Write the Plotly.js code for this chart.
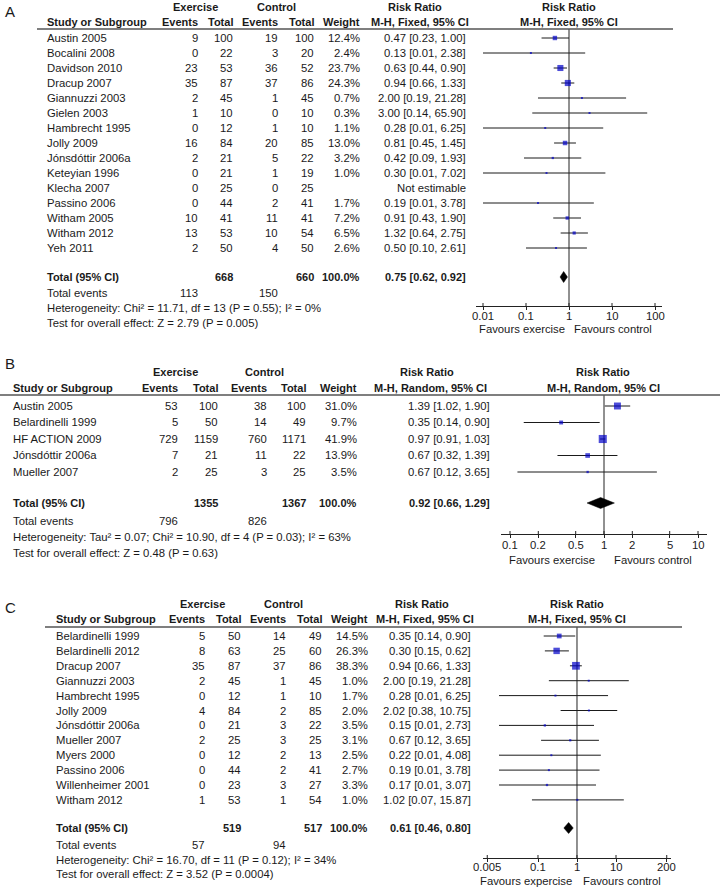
<!DOCTYPE html>
<html><head><meta charset="utf-8">
<script src="https://cdn.plot.ly/plotly-3.0.1.min.js"></script>
<style>html,body{margin:0;padding:0;background:#fff;}#chart{width:720px;height:888px;}</style>
</head><body><div id="chart"></div>
<script>
// ================= DATA =================
// ---- Panel A ----
const studiesA = ['Austin 2005','Bocalini 2008','Davidson 2010','Dracup 2007','Giannuzzi 2003','Gielen 2003','Hambrecht 1995','Jolly 2009','Jónsdóttir 2006a','Keteyian 1996','Klecha 2007','Passino 2006','Witham 2005','Witham 2012','Yeh 2011'];
const exEventsA = [9,0,23,35,2,1,0,16,2,0,0,0,10,13,2];
const exTotalA  = [100,22,53,87,45,10,12,84,21,21,25,44,41,53,50];
const ctEventsA = [19,3,36,37,1,0,1,20,5,1,0,2,11,10,4];
const ctTotalA  = [100,20,52,86,45,10,10,85,22,19,25,41,41,54,50];
const weightA   = [12.4,2.4,23.7,24.3,0.7,0.3,1.1,13.0,3.2,1.0,null,1.7,7.2,6.5,2.6];
const rrA = [0.47,0.13,0.63,0.94,2.00,3.00,0.28,0.81,0.42,0.30,null,0.19,0.91,1.32,0.50];
const loA = [0.23,0.01,0.44,0.66,0.19,0.14,0.01,0.45,0.09,0.01,null,0.01,0.43,0.64,0.10];
const hiA = [1.00,2.38,0.90,1.33,21.28,65.90,6.25,1.45,1.93,7.02,null,3.78,1.90,2.75,2.61];
const totalsA = [668,660];
const totalEventsA = [113,150];
const pooledA = [0.75,0.62,0.92];
const methodA = 'M-H, Fixed, 95% CI';
const hetA = 'Heterogeneity: Chi² = 11.71, df = 13 (P = 0.55); I² = 0%';
const testA = 'Test for overall effect: Z = 2.79 (P = 0.005)';
const ticksA = [0.01,0.1,1,10,100];
const tickLabelsA = ['0.01','0.1','1','10','100'];
const favoursA = ['Favours exercise','Favours control'];

// ---- Panel B ----
const studiesB = ['Austin 2005','Belardinelli 1999','HF ACTION 2009','Jónsdóttir 2006a','Mueller 2007'];
const exEventsB = [53,5,729,7,2];
const exTotalB  = [100,50,1159,21,25];
const ctEventsB = [38,14,760,11,3];
const ctTotalB  = [100,49,1171,22,25];
const weightB   = [31.0,9.7,41.9,13.9,3.5];
const rrB = [1.39,0.35,0.97,0.67,0.67];
const loB = [1.02,0.14,0.91,0.32,0.12];
const hiB = [1.90,0.90,1.03,1.39,3.65];
const totalsB = [1355,1367];
const totalEventsB = [796,826];
const pooledB = [0.92,0.66,1.29];
const methodB = 'M-H, Random, 95% CI';
const hetB = 'Heterogeneity: Tau² = 0.07; Chi² = 10.90, df = 4 (P = 0.03); I² = 63%';
const testB = 'Test for overall effect: Z = 0.48 (P = 0.63)';
const ticksB = [0.1,0.2,0.5,1,2,5,10];
const tickLabelsB = ['0.1','0.2','0.5','1','2','5','10'];
const favoursB = ['Favours exercise','Favours control'];

// ---- Panel C ----
const studiesC = ['Belardinelli 1999','Belardinelli 2012','Dracup 2007','Giannuzzi 2003','Hambrecht 1995','Jolly 2009','Jónsdóttir 2006a','Mueller 2007','Myers 2000','Passino 2006','Willenheimer 2001','Witham 2012'];
const exEventsC = [5,8,35,2,0,4,0,2,0,0,0,1];
const exTotalC  = [50,63,87,45,12,84,21,25,12,44,23,53];
const ctEventsC = [14,25,37,1,1,2,3,3,2,2,3,1];
const ctTotalC  = [49,60,86,45,10,85,22,25,13,41,27,54];
const weightC   = [14.5,26.3,38.3,1.0,1.7,2.0,3.5,3.1,2.5,2.7,3.3,1.0];
const rrC = [0.35,0.30,0.94,2.00,0.28,2.02,0.15,0.67,0.22,0.19,0.17,1.02];
const loC = [0.14,0.15,0.66,0.19,0.01,0.38,0.01,0.12,0.01,0.01,0.01,0.07];
const hiC = [0.90,0.62,1.33,21.28,6.25,10.75,2.73,3.65,4.08,3.78,3.07,15.87];
const totalsC = [519,517];
const totalEventsC = [57,94];
const pooledC = [0.61,0.46,0.80];
const methodC = 'M-H, Fixed, 95% CI';
const hetC = 'Heterogeneity: Chi² = 16.70, df = 11 (P = 0.12); I² = 34%';
const testC = 'Test for overall effect: Z = 3.52 (P = 0.0004)';
const ticksC = [0.005,0.1,1,10,200];
const tickLabelsC = ['0.005','0.1','1','10','200'];
const favoursC = ['Favours expercise','Favours control'];

// ================= LAYOUT GEOMETRY (pixels) =================
const geomA = {label:'A', labelX:10, labelY:11, nameX:46, colR:[199,234,279,315,361], ciR:467,
  hdr1Y:7, hdr2Y:22, lineY:29, lineX0:37, lineX1:673, rowTop:38, rowH:15,
  totalY:277, evY:293, hetY:308, testY:323, exC:195, ctC:276, rrC1:415, rrC2:420, plotC:569,
  axisY:306, center:569, decPx:43, span:2.163, tickY:316, favC:[522,613], favY:329};
const geomB = {label:'B', labelX:10, labelY:363, nameX:12, colR:[179,219,268,307,358], ciR:491,
  hdr1Y:372, hdr2Y:388, lineY:395, lineX0:0, lineX1:720, rowTop:406, rowH:16.5,
  totalY:503, evY:521, hetY:537, testY:553, exC:175, ctC:264, rrC1:427, rrC2:430, plotC:603,
  axisY:534, center:604, decPx:94, span:1.1, tickY:545, favC:[552,653], favY:560};
const geomC = {label:'C', labelX:10, labelY:607, nameX:55, colR:[206,242,287,323,369], ciR:472,
  hdr1Y:604, hdr2Y:619, lineY:627, lineX0:45, lineX1:682, rowTop:636, rowH:14.9,
  totalY:828, evY:845, hetY:860, testY:874, exC:202, ctC:283, rrC1:422, rrC2:425, plotC:577,
  axisY:858, center:577, decPx:39, span:2.42, tickY:867, favC:[526,622], favY:881};

// ================= BUILD =================
const FONT = '"Liberation Sans", Arial, Helvetica, sans-serif';
const TXT = '#1a1a1a';
const REG = 11.3, BOLD = 11;
const W = 720, H = 888;
const annotations = [], shapes = [], traces = [];
const layout = {width:W, height:H, margin:{l:0,r:0,t:0,b:0}, showlegend:false,
  paper_bgcolor:'#ffffff', plot_bgcolor:'rgba(0,0,0,0)', annotations, shapes};

function px(x){ return x / W; }
function py(y){ return 1 - y / H; }
function text(x, y, t, anchor, bold, size){
  annotations.push({xref:'paper', yref:'paper', x:px(x), y:py(y), text: bold ? '<b>'+t+'</b>' : t,
    xanchor:anchor, yanchor:'middle', showarrow:false, borderpad:0,
    font:{family:FONT, size:size || (bold ? BOLD : REG), color:TXT}});
}
function fmtCI(r,l,h){ return r.toFixed(2)+' ['+l.toFixed(2)+', '+h.toFixed(2)+']'; }

function drawPanel(d, g, k){
  const xa = k===1 ? 'x' : 'x'+k, ya = k===1 ? 'y' : 'y'+k;
  const xkey = k===1 ? 'xaxis' : 'xaxis'+k, ykey = k===1 ? 'yaxis' : 'yaxis'+k;
  const rowY = d.studies.map((_,i) => g.rowTop + i*g.rowH);

  // headers
  text(g.labelX, g.labelY, g.label, 'center', false, 15);
  text(g.exC, g.hdr1Y, 'Exercise', 'center', true);
  text(g.ctC, g.hdr1Y, 'Control', 'center', true);
  text(g.rrC1, g.hdr1Y, 'Risk Ratio', 'center', true);
  text(g.plotC, g.hdr1Y, 'Risk Ratio', 'center', true);
  text(g.nameX, g.hdr2Y, 'Study or Subgroup', 'left', true);
  ['Events','Total','Events','Total','Weight'].forEach((h,j) => text(g.colR[j], g.hdr2Y, h, 'right', true));
  text(g.rrC2, g.hdr2Y, d.method, 'center', true);
  text(g.plotC, g.hdr2Y, d.method, 'center', true);
  shapes.push({type:'line', xref:'paper', yref:'paper', x0:px(g.lineX0), x1:px(g.lineX1),
    y0:py(g.lineY), y1:py(g.lineY), line:{color:'#555', width:1.5}});

  // study rows
  d.studies.forEach((s,i) => {
    const y = rowY[i];
    text(g.nameX, y, s, 'left');
    [d.exEvents[i], d.exTotal[i], d.ctEvents[i], d.ctTotal[i]].forEach((v,j) => text(g.colR[j], y, String(v), 'right'));
    if (d.weight[i] != null) {
      text(g.colR[4], y, d.weight[i].toFixed(1)+'%', 'right');
      text(g.ciR, y, fmtCI(d.rr[i], d.lo[i], d.hi[i]), 'right');
    } else {
      text(g.ciR, y, 'Not estimable', 'right');
    }
  });

  // totals
  text(g.nameX, g.totalY, 'Total (95% CI)', 'left', true);
  text(g.colR[1], g.totalY, String(d.totals[0]), 'right', true);
  text(g.colR[3], g.totalY, String(d.totals[1]), 'right', true);
  text(g.colR[4], g.totalY, '100.0%', 'right', true);
  text(g.ciR, g.totalY, fmtCI(d.pooled[0], d.pooled[1], d.pooled[2]), 'right', true);
  text(g.nameX, g.evY, 'Total events', 'left');
  text(g.colR[0], g.evY, String(d.events[0]), 'right');
  text(g.colR[2], g.evY, String(d.events[1]), 'right');
  text(g.nameX, g.hetY, d.het, 'left');
  text(g.nameX, g.testY, d.test, 'left');

  // axes
  const x0 = g.center - g.decPx*g.span, x1 = g.center + g.decPx*g.span;
  layout[xkey] = {domain:[px(x0), px(x1)], range:[-g.span, g.span], type:'log', anchor:ya,
    showgrid:false, zeroline:false, showline:true, linecolor:'#222', linewidth:1,
    ticks:'outside', ticklen:3, tickwidth:1, tickcolor:'#222', tickmode:'array',
    tickvals:d.ticks, showticklabels:false, fixedrange:true};
  layout[ykey] = {domain:[py(g.axisY), py(g.lineY)], range:[g.axisY, g.lineY], anchor:xa,
    visible:false, fixedrange:true};

  d.tickLabels.forEach((t,j) => annotations.push({xref:xa, yref:'paper', x:Math.log10(d.ticks[j]),
    y:py(g.tickY), text:t, xanchor:'center', yanchor:'middle', showarrow:false, borderpad:0,
    font:{family:FONT, size:REG, color:TXT}}));
  text(g.favC[0], g.favY, d.favours[0], 'center');
  text(g.favC[1], g.favY, d.favours[1], 'center');

  // upper halves of ticks (crossing ticks)
  const tx = [], ty = [];
  d.ticks.forEach(v => { tx.push(v, v, null); ty.push(g.axisY - 3, g.axisY, null); });
  traces.push({type:'scatter', mode:'lines', x:tx, y:ty, xaxis:xa, yaxis:ya,
    line:{color:'#222', width:1}, hoverinfo:'skip'});

  // line of no effect
  traces.push({type:'scatter', mode:'lines', x:[1,1], y:[g.lineY, g.axisY], xaxis:xa, yaxis:ya,
    line:{color:'#222', width:1}, hoverinfo:'skip'});

  // CI lines
  const cx = [], cy = [];
  d.studies.forEach((_,i) => { if (d.rr[i] != null) { cx.push(d.lo[i], d.hi[i], null); cy.push(rowY[i], rowY[i], null); } });
  traces.push({type:'scatter', mode:'lines', x:cx, y:cy, xaxis:xa, yaxis:ya,
    line:{color:'#1a1a1a', width:1}, hoverinfo:'skip'});

  // squares
  const sx = [], sy = [], ss = [];
  d.studies.forEach((_,i) => { if (d.rr[i] != null) { sx.push(d.rr[i]); sy.push(rowY[i]); ss.push(Math.max(2, 1.25*Math.sqrt(d.weight[i]))); } });
  traces.push({type:'scatter', mode:'markers', x:sx, y:sy, xaxis:xa, yaxis:ya,
    marker:{symbol:'square', size:ss, color:'#0000c8', line:{width:0}}, hoverinfo:'skip', cliponaxis:false});

  // diamond
  const T = g.totalY, hh = 5.5;
  traces.push({type:'scatter', mode:'lines', x:[d.pooled[1], d.pooled[0], d.pooled[2], d.pooled[0], d.pooled[1]],
    y:[T, T-hh, T, T+hh, T], xaxis:xa, yaxis:ya, fill:'toself', fillcolor:'#000',
    line:{color:'#000', width:0.5}, hoverinfo:'skip'});
}

drawPanel({studies:studiesA, exEvents:exEventsA, exTotal:exTotalA, ctEvents:ctEventsA, ctTotal:ctTotalA,
  weight:weightA, rr:rrA, lo:loA, hi:hiA, totals:totalsA, events:totalEventsA, pooled:pooledA,
  method:methodA, het:hetA, test:testA, ticks:ticksA, tickLabels:tickLabelsA, favours:favoursA}, geomA, 1);
drawPanel({studies:studiesB, exEvents:exEventsB, exTotal:exTotalB, ctEvents:ctEventsB, ctTotal:ctTotalB,
  weight:weightB, rr:rrB, lo:loB, hi:hiB, totals:totalsB, events:totalEventsB, pooled:pooledB,
  method:methodB, het:hetB, test:testB, ticks:ticksB, tickLabels:tickLabelsB, favours:favoursB}, geomB, 2);
drawPanel({studies:studiesC, exEvents:exEventsC, exTotal:exTotalC, ctEvents:ctEventsC, ctTotal:ctTotalC,
  weight:weightC, rr:rrC, lo:loC, hi:hiC, totals:totalsC, events:totalEventsC, pooled:pooledC,
  method:methodC, het:hetC, test:testC, ticks:ticksC, tickLabels:tickLabelsC, favours:favoursC}, geomC, 3);

Plotly.newPlot('chart', traces, layout, {staticPlot:true, displayModeBar:false});
</script>
</body></html>
